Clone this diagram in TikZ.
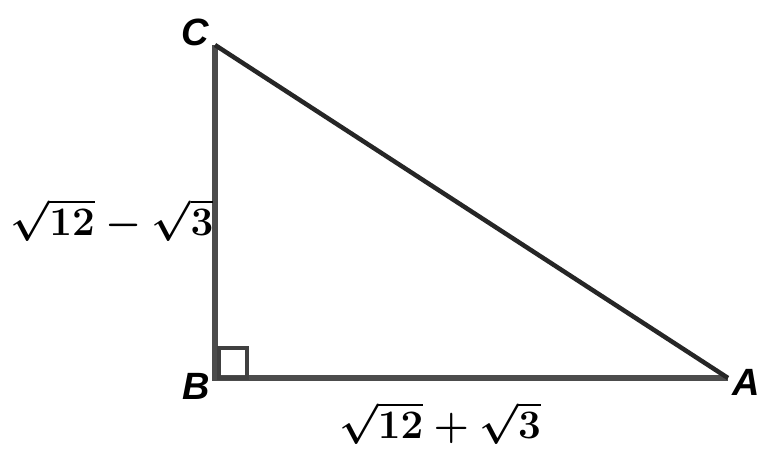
\documentclass[tikz,border=0pt]{standalone}
\usepackage{fontspec}
\usepackage{graphicx}
\setmainfont{Liberation Sans}
\begin{document}
\begin{tikzpicture}[x=1pt,y=-1pt,
  side/.style={line width=6pt,draw=black!70},
  vlabel/.style={font=\fontsize{38}{42}\selectfont\bfseries\itshape,inner sep=0pt},
  mlabel/.style={font=\fontsize{20}{24}\selectfont\boldmath,inner sep=0pt}]
\useasboundingbox[fill=white] (0,0) rectangle (762,454);
\coordinate (C) at (215,45);
\coordinate (B) at (215,378);
\coordinate (A) at (728,378);
\draw[side,line join=miter] (C) -- (B) -- (A);
\draw[line width=4.5pt,draw=black!85] (C) -- (A);
\draw[line width=4pt,draw=black!75] (219,348) rectangle (247,378);
\node[vlabel] (lc) at (195,32) {C};
\node[vlabel] (lb) at (196,386) {B};
\node[vlabel,anchor=east] (la) at (760,382) {A};
\node[mlabel] (ll) at (112,220) {\scalebox{1.95}{$\sqrt{12}-\sqrt{3}$}};
\node[mlabel] (lbot) at (440,423) {\scalebox{1.95}{$\sqrt{12}+\sqrt{3}$}};
\end{tikzpicture}
\end{document}
